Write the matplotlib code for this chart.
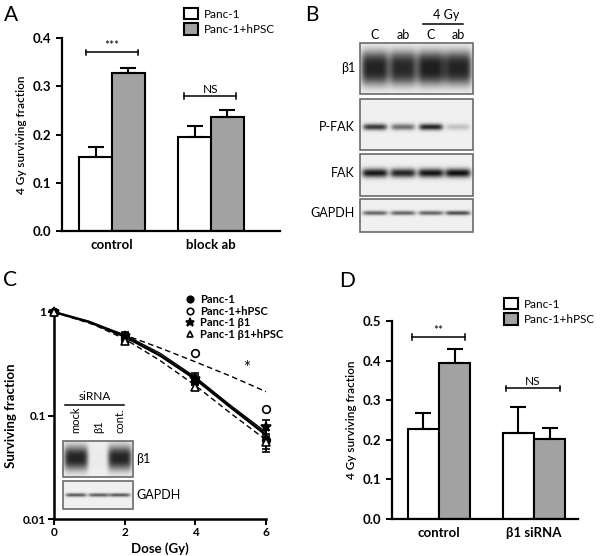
import numpy as np
import matplotlib
matplotlib.use('Agg')
import matplotlib.pyplot as plt
from matplotlib.patches import Rectangle
from matplotlib.lines import Line2D

plt.rcParams['font.family'] = ['Lato', 'DejaVu Sans']

# ---- data ----
# panel A
groupsA = ['control', 'block ab']
panc1A = [0.153, 0.195]
panc1A_err = [0.022, 0.023]
hpscA = [0.328, 0.237]
hpscA_err = [0.010, 0.013]

# panel D
groupsD = ['control', '\u03b21 siRNA']
panc1D = [0.228, 0.218]
panc1D_err = [0.040, 0.064]
hpscD = [0.395, 0.202]
hpscD_err = [0.035, 0.028]

# panel C, clonogenic survival
dose = [0, 2, 4, 6]
sf_panc1 = [1.0, 0.57, 0.22, 0.058]
sf_panc1_err = [0.0, 0.05, 0.025, 0.014]
sf_hpsc = [1.0, 0.55, 0.40, 0.115]
sf_hpsc_err = [0.0, 0.04, 0.0, 0.0]
sf_b1 = [1.0, 0.58, 0.225, 0.078]
sf_b1_err = [0.0, 0.06, 0.03, 0.012]
sf_b1hpsc = [1.0, 0.52, 0.19, 0.055]
sf_b1hpsc_err = [0.0, 0.03, 0.015, 0.008]
# fitted curves read at 1 Gy steps
fit_dose = [0, 1, 2, 3, 4, 5, 6]
fit_panc1 = [1.0, 0.80, 0.58, 0.38, 0.225, 0.12, 0.065]
fit_hpsc = [1.0, 0.78, 0.60, 0.45, 0.33, 0.24, 0.17]
fit_b1 = [1.0, 0.81, 0.60, 0.40, 0.235, 0.125, 0.069]
fit_b1hpsc = [1.0, 0.79, 0.55, 0.34, 0.195, 0.105, 0.058]

# western blot band intensities (0 = none, 1 = black)
laneB = ['C', 'ab', 'C', 'ab']
b1_band = [0.80, 0.78, 0.82, 0.80]
pfak_band = [0.72, 0.50, 0.80, 0.18]
fak_band = [0.85, 0.80, 0.86, 0.88]
gapdh_band = [0.55, 0.55, 0.55, 0.65]
laneC = ['mock', '\u03b21', 'cont.']
inset_b1 = [0.80, 0.02, 0.80]
inset_gapdh = [0.60, 0.58, 0.60]

grey = '#a2a2a2'
W, H = 600, 556
fig = plt.figure(figsize=(6, 5.56), dpi=100)


def box(x0, y0, x1, y1):
    return [x0 / W, 1 - y1 / H, (x1 - x0) / W, (y1 - y0) / H]


def style_bar_axes(ax):
    for s in ['top', 'right']:
        ax.spines[s].set_visible(False)
    for s in ['left', 'bottom']:
        ax.spines[s].set_linewidth(1.6)
    ax.tick_params(axis='y', direction='out', length=4, width=1.4, labelsize=9.5)
    ax.tick_params(axis='x', length=0, labelsize=9.5, pad=6)
    for t in ax.get_xticklabels() + ax.get_yticklabels():
        t.set_fontweight('bold')


def sig(ax, x1, x2, y, txt, dy):
    ax.plot([x1, x2], [y, y], color='black', lw=1.1)
    ax.plot([x1, x1], [y - dy, y + dy], color='black', lw=1.1)
    ax.plot([x2, x2], [y - dy, y + dy], color='black', lw=1.1)
    ax.text((x1 + x2) / 2, y + dy * 0.4, txt, ha='center', va='bottom', fontsize=8.5)


def bar_panel(ax, groups, a, aerr, b, berr):
    x = np.arange(len(groups))
    w = 0.33
    ax.bar(x - w / 2, a, w, yerr=[[0] * len(a), aerr], color='white', edgecolor='black',
           linewidth=1.5, capsize=5.5, error_kw=dict(elinewidth=1.5, capthick=1.5), label='Panc-1')
    ax.bar(x + w / 2, b, w, yerr=[[0] * len(b), berr], color=grey, edgecolor='black',
           linewidth=1.5, capsize=5.5, error_kw=dict(elinewidth=1.5, capthick=1.5), label='Panc-1+hPSC')
    ax.set_xticks(x)
    ax.set_xticklabels(groups)
    ax.set_ylabel('4 Gy surviving fraction', fontsize=8.5, fontweight='semibold')
    style_bar_axes(ax)


# ---- panel A ----
axA = fig.add_axes(box(62, 38, 280, 231))
bar_panel(axA, groupsA, panc1A, panc1A_err, hpscA, hpscA_err)
axA.set_ylim(0, 0.4)
axA.set_xlim(-0.505, 1.697)
axA.set_yticks([0, 0.1, 0.2, 0.3, 0.4])
axA.set_yticklabels(['0.0', '0.1', '0.2', '0.3', '0.4'], fontweight='bold')
sig(axA, -0.263, 0.263, 0.37, '***', 0.006)
sig(axA, 0.73, 1.255, 0.28, 'NS', 0.006)
axA.legend(loc='upper left', bbox_to_anchor=(184 / W, 1 - 8 / H), bbox_transform=fig.transFigure,
           frameon=False, borderaxespad=0, borderpad=0, handlelength=1.2, handleheight=1.1,
           handletextpad=0.5, labelspacing=0.3, fontsize=8.5)

# ---- panel D ----
axD = fig.add_axes(box(392, 321, 578, 519))
bar_panel(axD, groupsD, panc1D, panc1D_err, hpscD, hpscD_err)
axD.set_ylim(0, 0.5)
axD.set_xlim(-0.495, 1.463)
axD.set_yticks([0, 0.1, 0.2, 0.3, 0.4, 0.5])
axD.set_yticklabels(['0.0', '0.1', '0.2', '0.3', '0.4', '0.5'], fontweight='bold')
sig(axD, -0.284, 0.274, 0.46, '**', 0.007)
sig(axD, 0.705, 1.27, 0.33, 'NS', 0.007)
axD.legend(loc='upper left', bbox_to_anchor=(504 / W, 1 - 298 / H), bbox_transform=fig.transFigure,
           frameon=False, borderaxespad=0, borderpad=0, handlelength=1.2, handleheight=1.1,
           handletextpad=0.5, labelspacing=0.3, fontsize=8.5)

# ---- panel C ----
axC = fig.add_axes(box(54, 312, 266, 519))
axC.set_yscale('log')
axC.plot(fit_dose, fit_panc1, color='black', lw=1.8)
axC.plot(fit_dose, fit_b1, color='black', lw=1.0)
axC.plot(fit_dose, fit_hpsc, color='black', lw=1.0, ls=(0, (4, 2.5)))
axC.plot(fit_dose, fit_b1hpsc, color='black', lw=1.0, ls=(0, (4, 2.5)))
series = [
    (sf_panc1, sf_panc1_err, dict(marker='o', mfc='black'), 'Panc-1'),
    (sf_hpsc, sf_hpsc_err, dict(marker='o', mfc='white'), 'Panc-1+hPSC'),
    (sf_b1, sf_b1_err, dict(marker='*', mfc='black', markersize=7.5), 'Panc-1 \u03b21'),
    (sf_b1hpsc, sf_b1hpsc_err, dict(marker='^', mfc='white'), 'Panc-1 \u03b21+hPSC'),
]
handles = []
for y, e, mk, lab in series:
    kw = dict(markersize=5.5, mec='black', mew=1.2)
    kw.update(mk)
    eb = axC.errorbar(dose, y, yerr=e, fmt='none', ecolor='black', elinewidth=1.2,
                      capsize=3, capthick=1.2)
    for art in eb.get_children():
        art.set_clip_on(False)
    axC.plot(dose, y, ls='none', clip_on=False, zorder=5, **kw)
    handles.append(Line2D([], [], ls='none', label=lab, **kw))
axC.set_xlim(0, 6)
axC.set_ylim(0.01, 1)
axC.set_xticks([0, 2, 4, 6])
axC.set_yticks([0.01, 0.1, 1])
axC.set_yticklabels(['0.01', '0.1', '1'])
axC.yaxis.set_minor_locator(matplotlib.ticker.NullLocator())
for s in ['top', 'right']:
    axC.spines[s].set_visible(False)
for s in ['left', 'bottom']:
    axC.spines[s].set_linewidth(1.8)
axC.tick_params(direction='out', length=4, width=1.4, labelsize=8.5, pad=2)
for t in axC.get_xticklabels() + axC.get_yticklabels():
    t.set_fontweight('bold')
axC.set_xlabel('Dose (Gy)', fontsize=9.5, fontweight='bold', labelpad=3)
axC.set_ylabel('Surviving fraction', fontsize=9.5, fontweight='bold', labelpad=4)
axC.text(5.45, 0.29, '*', ha='center', va='center', fontsize=12)
axC.legend(handles=handles, loc='upper left', bbox_to_anchor=(186 / W, 1 - 294 / H),
           bbox_transform=fig.transFigure, frameon=False, borderaxespad=0, borderpad=0,
           handlelength=0.8, handletextpad=0.5, labelspacing=0.05,
           prop=dict(size=8, weight='bold'), markerscale=0.85)

# ---- overlay for blots and panel letters ----
ov = fig.add_axes([0, 0, 1, 1], facecolor='none')


def blot(x0, y0, x1, y1, centers, intens, cy, hh, hw, ppow=2):
    res = 4
    nx, ny = int((x1 - x0) * res), int((y1 - y0) * res)
    xs = np.linspace(x0, x1, nx)
    ys = np.linspace(y0, y1, ny)
    X, Y = np.meshgrid(xs, ys)
    img = np.full(X.shape, 0.94)
    fy = np.exp(-np.abs((Y - cy) / hh) ** ppow)
    for cx, a in zip(centers, intens):
        fx = np.exp(-np.abs((X - cx) / hw) ** 6)
        img -= a * fx * fy
    img = np.clip(img, 0, 1)
    ov.imshow(img, cmap='gray', vmin=0, vmax=1, extent=(x0, x1, y1, y0),
              interpolation='bilinear', aspect='auto', zorder=2)
    ov.add_patch(Rectangle((x0, y0), x1 - x0, y1 - y0, fill=False, ec='#6a6a6a', lw=1.2, zorder=3))


lanesB = [375, 403, 431, 458]
blot(360, 43, 473, 94, lanesB, b1_band, 68, 17, 14, ppow=3)
blot(360, 99, 473, 150, lanesB, pfak_band, 127, 3.2, 12)
blot(360, 154, 473, 196, lanesB, fak_band, 173, 4.5, 13)
blot(360, 199, 473, 232, lanesB, gapdh_band, 213, 2.2, 12.5)
for lab, yy in [('\u03b21', 68), ('P-FAK', 127), ('FAK', 173), ('GAPDH', 213)]:
    ov.text(355, yy, lab, ha='right', va='center', fontsize=9)
for lab, xx in zip(laneB, lanesB):
    ov.text(xx, 35, lab, ha='center', va='center', fontsize=9)
ov.text(446, 15, '4 Gy', ha='center', va='center', fontsize=9)
ov.plot([423, 463], [24, 24], color='black', lw=1.1)

lanesC = [76, 99, 120]
blot(63, 441, 133, 477, lanesC, inset_b1, 458, 12, 12, ppow=2.5)
blot(63, 481, 133, 509, lanesC, inset_gapdh, 495, 1.8, 10.5)
for lab, xx in zip(laneC, lanesC):
    ov.text(xx, 433, lab, ha='center', va='bottom', rotation=90, fontsize=8)
ov.text(95, 397, 'siRNA', ha='center', va='center', fontsize=8.5)
ov.plot([65, 124], [405, 405], color='black', lw=1.1)
ov.text(136, 459, '\u03b21', ha='left', va='center', fontsize=9)
ov.text(136, 495, 'GAPDH', ha='left', va='center', fontsize=9)

for lab, xx, yy in [('A', 11, 15), ('B', 312, 15), ('C', 10, 280), ('D', 347, 281)]:
    ov.text(xx, yy, lab, ha='center', va='center', fontsize=15)

ov.set_xlim(0, W)
ov.set_ylim(H, 0)
ov.axis('off')

fig.savefig('out.png', dpi=100)
